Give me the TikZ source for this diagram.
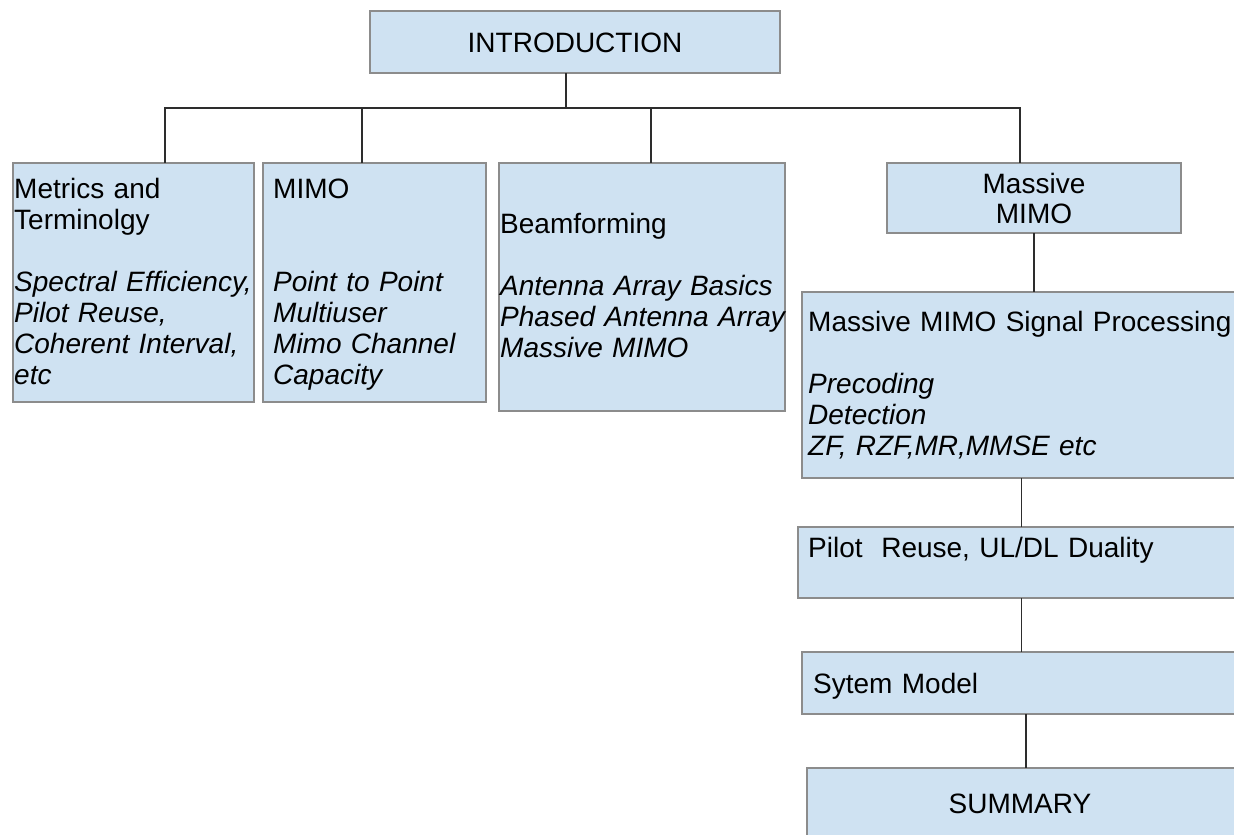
\documentclass[tikz,border=0pt]{standalone}
\usepackage{fontspec}
\setmainfont{Liberation Sans}
\usepackage{tikz}
\definecolor{boxblue}{RGB}{207,226,242}
\definecolor{boxgrey}{RGB}{140,140,140}
\definecolor{wire}{RGB}{45,45,45}
\tikzset{
    topic/.style 2 args = {draw=boxgrey, fill=boxblue, line width=1.3pt, inner sep=0pt,
        minimum width=#1pt, minimum height=#2pt},
    txt/.style  = {font=\fontsize{28}{31}\selectfont, inner sep=0pt, text width=440pt,
        align=left, anchor=base west},
    ctxt/.style = {font=\fontsize{28}{30}\selectfont, inner sep=0pt, text width=300pt,
        align=center, anchor=base},
    link/.style = {draw=wire, line width=1.1pt}
}

\begin{document}
\begin{tikzpicture}[x=1pt,y=-1pt,line cap=rect]
\path[use as bounding box, clip] (0,0) rectangle (1234,835);

\node[topic={410}{62}]  (intro)   at (575,42) {};
\node[topic={241}{239}] (metrics) at (133.5,282.5) {};
\node[topic={223}{239}] (mimo)    at (374.5,282.5) {};
\node[topic={286}{248}] (beam)    at (642,287) {};
\node[topic={294}{70}]  (mmimo)   at (1034,198) {};
\node[topic={443}{186}] (sigproc) at (1023.5,385) {};
\node[topic={447}{71}]  (pilot)   at (1021.5,562.5) {};
\node[topic={443}{62}]  (sysmod)  at (1023.5,683) {};
\node[topic={438}{82}]  (summ)    at (1026,809) {};

\coordinate (j0) at (566,108);
\coordinate (b1) at (165,108);
\coordinate (b2) at (362,108);
\coordinate (b3) at (651,108);
\coordinate (b4) at (1020,108);

\draw[link] (j0 |- intro.south) -- (j0);
\draw[link] (b1) -- (b4);
\draw[link] (b1) -- (b1 |- metrics.north);
\draw[link] (b2) -- (b2 |- mimo.north);
\draw[link] (b3) -- (b3 |- beam.north);
\draw[link] (b4) -- (b4 |- mmimo.north);
\draw[link] (mmimo.south) -- (mmimo.south |- sigproc.north);
\draw[link] (pilot.north) -- (pilot.north |- sigproc.south);
\draw[link] (pilot.south) -- (pilot.south |- sysmod.north);
\draw[link] (summ.north) -- (summ.north |- sysmod.south);

\node[ctxt] (t-intro) at (575,52) {INTRODUCTION};
\node[txt] (t-metrics) at (14,198) {Metrics and\\Terminolgy\\[31pt]\itshape Spectral Efficiency,\\Pilot Reuse,\\Coherent Interval,\\etc};
\node[txt] (t-mimo) at (273,198) {MIMO\\[62pt]\itshape Point to Point\\Multiuser\\Mimo Channel\\Capacity};
\node[txt] (t-beam) at (500,233) {Beamforming\\[31pt]\itshape Antenna Array Basics\\Phased Antenna Array\\Massive MIMO};
\node[ctxt] (t-mmimo) at (1034,193) {Massive\\MIMO};
\node[txt] (t-sigproc) at (808,331) {Massive MIMO Signal Processing\\[31pt]\itshape Precoding\\Detection\\ZF, RZF,MR,MMSE etc};
\node[txt] (t-pilot) at (808,557) {Pilot\ \ Reuse, UL/DL Duality};
\node[txt] (t-sysmod) at (813,693) {Sytem Model};
\node[ctxt] (t-summ) at (1020,813) {SUMMARY};
\end{tikzpicture}
\end{document}
